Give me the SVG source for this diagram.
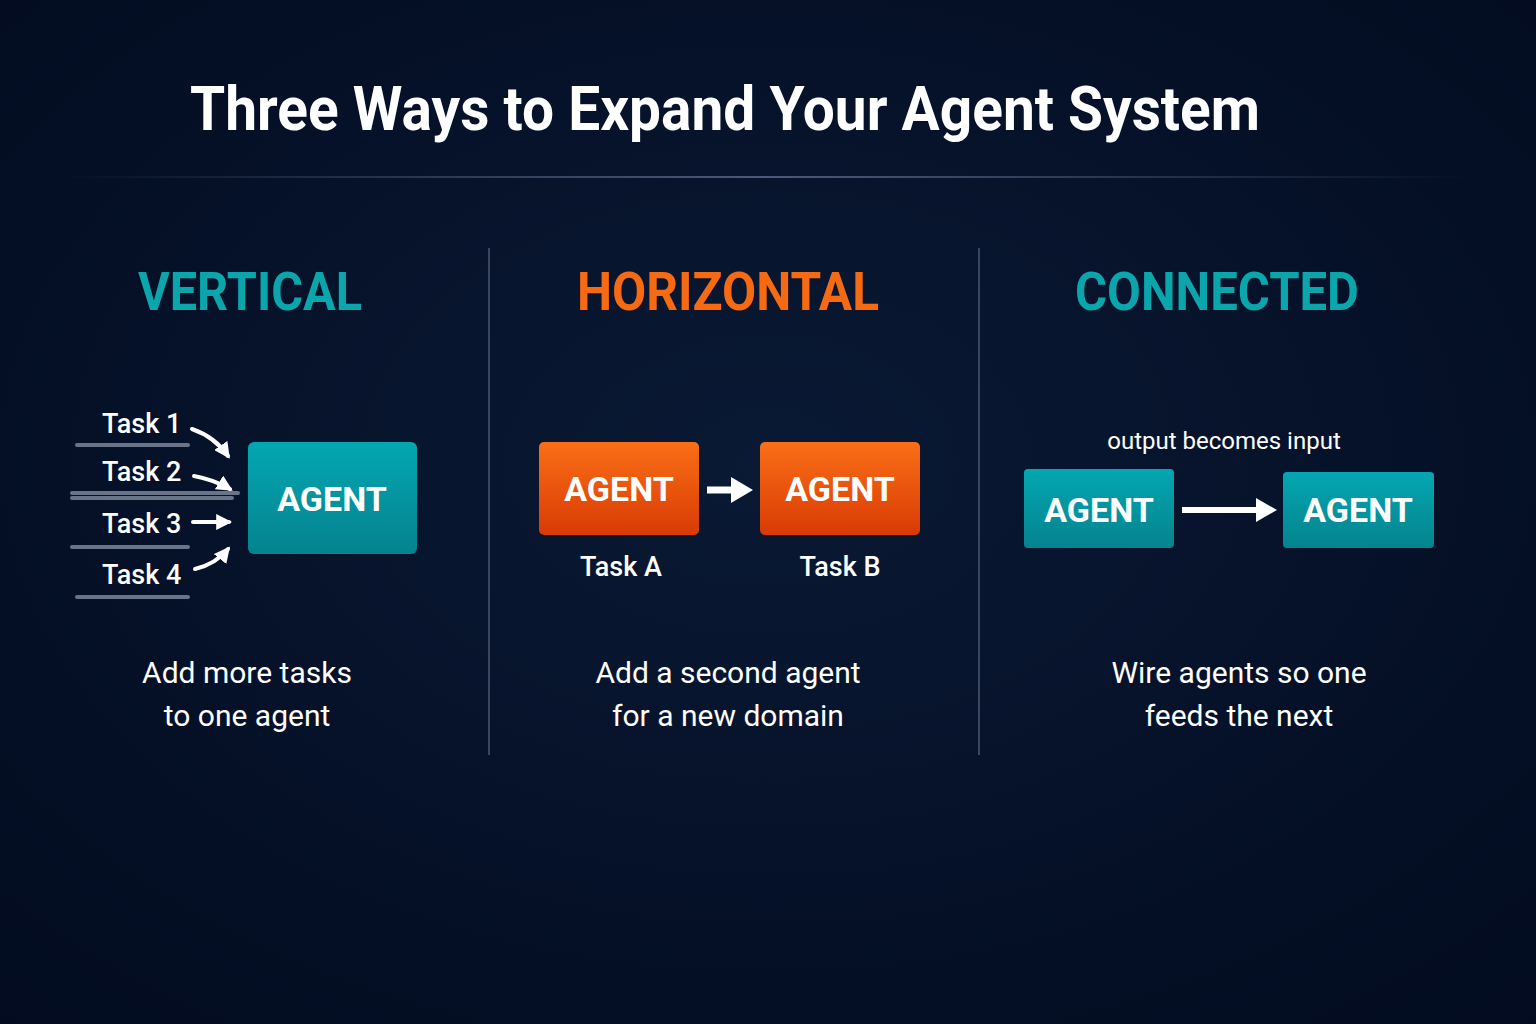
<svg xmlns="http://www.w3.org/2000/svg" width="1536" height="1024" viewBox="0 0 1536 1024">
<defs>
<radialGradient id="bg" cx="0.5" cy="0.45" r="0.75"><stop offset="0" stop-color="#0a1934"/><stop offset="1" stop-color="#020b1f"/></radialGradient>
<linearGradient id="teal" x1="0" y1="0" x2="0" y2="1"><stop offset="0" stop-color="#03a7b2"/><stop offset="1" stop-color="#05838e"/></linearGradient>
<linearGradient id="orange" x1="0" y1="0" x2="0" y2="1"><stop offset="0" stop-color="#f96f16"/><stop offset="1" stop-color="#d93a05"/></linearGradient>
<linearGradient id="rule" x1="0" x2="1"><stop offset="0" stop-color="#4a5a78" stop-opacity="0"/><stop offset="0.5" stop-color="#4a5a78"/><stop offset="1" stop-color="#4a5a78" stop-opacity="0"/></linearGradient>
<marker id="ah" viewBox="0 0 10 10" refX="8" refY="5" markerWidth="4" markerHeight="4" orient="auto"><path d="M0,0L10,5L0,10z" fill="#fff"/></marker>
</defs>
<style>
text{font-family:Roboto,"Liberation Sans",sans-serif;fill:#fff}
.h{font-size:54px;font-weight:700;text-anchor:middle}
.box{font-size:34px;font-weight:700;text-anchor:middle}
.task{font-size:27px;font-weight:500}
.cap{font-size:30px;text-anchor:middle}
.lbl{font-size:27px;font-weight:500;text-anchor:middle}
.ln{stroke:#6a7488;stroke-width:4;stroke-linecap:round}
.ar{fill:none;stroke:#fff;stroke-width:4;stroke-linecap:round;marker-end:url(#ah)}
</style>
<rect width="1536" height="1024" fill="url(#bg)"/>
<text x="725" y="130" font-size="62" font-weight="700" text-anchor="middle" textLength="1070" lengthAdjust="spacingAndGlyphs">Three Ways to Expand Your Agent System</text>
<rect x="60" y="176" width="1410" height="2" fill="url(#rule)"/>
<line x1="489" y1="248" x2="489" y2="755" stroke="#3a4660" stroke-width="2"/>
<line x1="979" y1="248" x2="979" y2="755" stroke="#3a4660" stroke-width="2"/>

<g id="vertical">
<text class="h" x="250" y="310" fill="#0aa6ac" style="fill:#0aa6ac" textLength="224" lengthAdjust="spacingAndGlyphs">VERTICAL</text>
<text class="task" x="102" y="433">Task 1</text>
<text class="task" x="102" y="481">Task 2</text>
<text class="task" x="102" y="533">Task 3</text>
<text class="task" x="102" y="584">Task 4</text>
<line class="ln" x1="77" y1="445" x2="188" y2="445"/>
<line class="ln" x1="72" y1="493" x2="238" y2="493" stroke-width="2"/>
<line class="ln" x1="72" y1="498" x2="232" y2="498" stroke-width="2"/>
<line class="ln" x1="72" y1="547" x2="188" y2="547" stroke-width="3"/>
<line class="ln" x1="77" y1="597" x2="188" y2="597"/>
<rect x="248" y="442" width="169" height="112" rx="6" fill="url(#teal)"/>
<text class="box" x="332" y="511">AGENT</text>
<text class="cap" x="247" y="683">Add more tasks</text>
<text class="cap" x="247" y="726">to one agent</text>
</g>

<g id="horizontal">
<text class="h" x="728" y="310" style="fill:#f56a12" textLength="302" lengthAdjust="spacingAndGlyphs">HORIZONTAL</text>
<rect x="539" y="442" width="160" height="93" rx="5" fill="url(#orange)"/>
<text class="box" x="619" y="501">AGENT</text>
<rect x="760" y="442" width="160" height="93" rx="5" fill="url(#orange)"/>
<text class="box" x="840" y="501">AGENT</text>
<text class="lbl" x="621" y="576">Task A</text>
<text class="lbl" x="840" y="576">Task B</text>
<text class="cap" x="728" y="683">Add a second agent</text>
<text class="cap" x="728" y="726">for a new domain</text>
</g>

<g id="connected">
<text class="h" x="1217" y="310" style="fill:#0aa6ac" textLength="284" lengthAdjust="spacingAndGlyphs">CONNECTED</text>
<text x="1224" y="449" font-size="24" text-anchor="middle">output becomes input</text>
<rect x="1024" y="469" width="150" height="79" rx="4" fill="url(#teal)"/>
<text class="box" x="1099" y="522">AGENT</text>
<rect x="1283" y="472" width="151" height="76" rx="4" fill="url(#teal)"/>
<text class="box" x="1358" y="522">AGENT</text>
<text class="cap" x="1239" y="683">Wire agents so one</text>
<text class="cap" x="1239" y="726">feeds the next</text>
</g>

<g id="connectors">
<path class="ar" d="M192,429 Q215,437 228,456"/>
<path class="ar" d="M194,476 Q215,480 230,489"/>
<path class="ar" d="M193,522 L229,522"/>
<path class="ar" d="M195,569 Q216,564 228,549"/>
<line x1="707" y1="490" x2="735" y2="490" stroke="#fff" stroke-width="7"/>
<path d="M731,477 L753,490 L731,503z" fill="#fff"/>
<line x1="1182" y1="510" x2="1260" y2="510" stroke="#fff" stroke-width="6"/>
<path d="M1256,498 L1277,510 L1256,522z" fill="#fff"/>
</g>
</svg>
